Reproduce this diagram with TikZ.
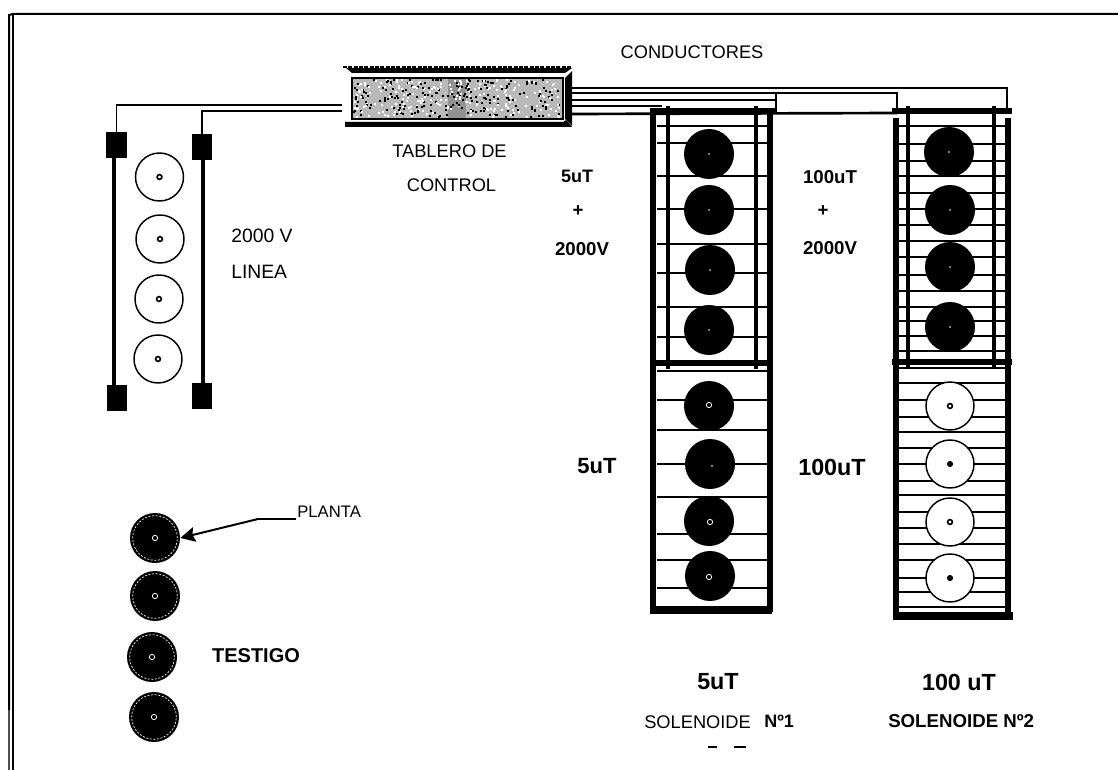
\documentclass[tikz,border=0pt]{standalone}
\usepackage{fontspec}
\setmainfont{Liberation Sans}
\usetikzlibrary{arrows.meta,patterns}
\newcommand{\fs}[1]{\fontsize{#1}{#1}\selectfont}
\tikzset{
  lab/.style={inner sep=0pt,font=\fs{13.7pt}},
  blab/.style={inner sep=0pt,font=\fs{14pt}\bfseries},
  mblab/.style={inner sep=0pt,font=\fs{17.5pt}\bfseries},
  wire/.style={draw=black,line width=1.4pt},
  rod/.style={draw=black,line width=3.4pt},
  outerrod/.style={draw=black,line width=4.4pt},
  bar/.style={draw=black,line width=5pt},
  rung/.style={draw=black,line width=1.7pt},
  term/.style={draw=none,fill=black,inner sep=0pt,minimum width=15.4pt,minimum height=19.5pt},
  wpot/.style={circle,draw=black,line width=1.1pt,fill=white,inner sep=0pt,minimum size=36pt},
  bpot/.style={circle,fill=black,inner sep=0pt,minimum size=37.5pt},
  ring/.style={circle,draw=black,line width=1.2pt,fill=white,inner sep=0pt,minimum size=3.6pt},
  dotb/.style={circle,fill=black,inner sep=0pt,minimum size=4.6pt},
  dotw/.style={circle,fill=white,inner sep=0pt,minimum size=1.3pt},
  ringw/.style={circle,draw=white,line width=.6pt,inner sep=0pt,minimum size=4pt},
  halo/.style={circle,draw=white,line width=.5pt,dash pattern=on 1.5pt off 1.2pt,inner sep=0pt,minimum size=33.5pt}
}
\begin{document}
\begin{tikzpicture}[x=0.75pt,y=-0.75pt]
\useasboundingbox (0,0) rectangle (1118,770);
% page frame
\draw[line width=1.5pt] (9,710) -- (9,15) -- (13,14) -- (1118,14);
\draw[line width=.9pt,black!70] (9,710) -- (9,770);
\draw[line width=1.1pt] (13,14) -- (13,770);
% control board
\node[inner sep=0pt,minimum width=170.25pt,minimum height=45pt] (tab) at (456.5,97) {};
\fill[gray!62] (352,78) rectangle (563,119);
\fill[pattern=crosshatch dots,pattern color=white] (352,78) rectangle (563,119);
\fill[black!55,opacity=.55] (448,78) rectangle (466,119);
\pgfmathsetseed{11}
\foreach \i in {1,...,420}{
  \pgfmathsetmacro{\rx}{353+rnd*207}
  \pgfmathsetmacro{\ry}{79+rnd*37}
  \pgfmathsetmacro{\rw}{rnd<.5?100:0}
  \fill[black!\rw!white] (\rx,\ry) rectangle ++(2,2);
}
\draw[line width=2.2pt] (352,78) rectangle (563,119);
\fill (346,68) -- (572,68) -- (565,73) -- (352,73) -- cycle;
\draw[line width=.8pt,dash pattern=on 3pt off 1pt] (343,67) -- (572,67);
\fill (345,122) -- (563,122) -- (566,120) -- (572,127) -- (345,127) -- cycle;
\fill (565,78) -- (572,71) -- (572,126) -- (565,119) -- cycle;
% wires to the line rods
\node[term] (ta) at (116.5,145) {};
\node[term] (tb) at (202,147.5) {};
\node[term] (ba) at (117,397.5) {};
\node[term] (bb) at (202,395.5) {};
\coordinate (wa) at (342,105);
\coordinate (wb) at (342,111);
\draw[wire,line width=1.1pt] (ta.north) -- (116.5,105) -- (wa);
\draw[wire,line width=1.3pt] (tb.north) -- (202,111) -- (wb);
\draw[rod] (114,150) -- (114,392);
\draw[rod] (203,150) -- (203,392);
\node[wpot] (l1) at (159.5,177) {}; \node[ring] at (l1) {};
\node[wpot] (l2) at (160,239) {};   \node[ring] at (l2) {};
\node[wpot] (l3) at (159,299) {};   \node[ring] at (l3) {};
\node[wpot] (l4) at (158,359) {};   \node[ring] at (l4) {};
\node[lab,font=\fs{14.5pt},anchor=west] (t2000) at (231,236) {2000 V};
\node[lab,font=\fs{14.5pt},anchor=west] (tlinea) at (231,272) {LINEA};
% wires to the solenoids
\coordinate (c1) at (572,88);
\coordinate (c2) at (572,93);
\coordinate (c3) at (572,100);
\coordinate (c4) at (572,106);
\coordinate (c5) at (572,114);
\coordinate (s2r) at (1007,112);
\coordinate (s2l) at (897,112);
\coordinate (s1m) at (776,112);
\draw[wire] (c1) -- (1007,88) -- (s2r);
\draw[wire] (c2) -- (897,93) -- (s2l);
\draw[wire] (c3) -- (776,100);
\draw[wire,line width=1pt] (c4) -- (662,106);
\draw[wire] (776,93) -- (s1m);
\draw[wire,line width=2pt] (c5) -- (897,113);
% solenoid 1
\foreach \y in {126,143,176,209,244,273,307,337,371,400,430,464,497,534,560,588}
  \draw[rung] (657,\y) -- (767,\y);
\draw[rod] (668,106) -- (668,369);
\draw[rod] (756,106) -- (756,369);
\draw[outerrod] (653,111) -- (653,612);
\draw[outerrod] (770,111) -- (770,612);
\draw[bar] (650,111) -- (775,111);
\draw[bar] (651,363) -- (773,363);
\draw[bar,line width=5.5pt] (650,610) -- (772,610);
\node[bpot] (a1) at (709,154) {}; \node[dotw] at (a1) {};
\node[bpot] (a2) at (709,210) {}; \node[dotw] at (a2) {};
\node[bpot] (a3) at (710,270) {}; \node[dotw] at (a3) {};
\node[bpot] (a4) at (709,330) {}; \node[dotw] at (a4) {};
\node[bpot] (a5) at (709,406) {}; \node[ringw] at (709,405) {};
\node[bpot] (a6) at (710,464) {}; \node[dotw] at (712,466) {};
\node[bpot] (a7) at (709,521) {}; \node[ringw] at (710,522) {};
\node[bpot] (a8) at (710,576) {}; \node[ringw] at (709,577) {};
% solenoid 2
\foreach \y in {126,144,161,176,193,209,225,241,257,275,291,307,321,336,351,368,383,400,417,432,448,464,481,495,512,528,544,560,578,592,607}
  \draw[rung] (897,\y) -- (1007,\y);
\draw[rod] (908,106) -- (908,368);
\draw[rod] (994,106) -- (994,368);
\draw[outerrod] (896,118) -- (896,616);
\draw[outerrod] (1008,118) -- (1008,616);
\draw[bar] (892,111) -- (1012,111);
\draw[bar] (892,362) -- (1012,362);
\draw[bar,line width=5.5pt] (893,616) -- (1013,616);
\node[bpot] (b1) at (949,152) {}; \node[dotw] at (b1) {};
\node[bpot] (b2) at (950,210) {}; \node[dotw] at (b2) {};
\node[bpot] (b3) at (950,267) {}; \node[dotw] at (b3) {};
\node[bpot] (b4) at (950,327) {}; \node[dotw] at (b4) {};
\node[wpot] (b5) at (950,406) {}; \node[ring] at (b5) {};
\node[wpot] (b6) at (950,464) {}; \node[dotb] at (b6) {};
\node[wpot] (b7) at (950,522) {}; \node[ring] at (b7) {};
\node[wpot] (b8) at (950,578) {}; \node[dotb] at (b8) {};
% control plants
\node[bpot] (p1) at (155,538) {}; \node[halo] at (p1) {}; \node[ringw] at (p1) {};
\node[bpot] (p2) at (155,596) {}; \node[halo] at (p2) {}; \node[ringw] at (p2) {};
\node[bpot] (p3) at (152,657) {}; \node[halo] at (p3) {}; \node[ringw] at (p3) {};
\node[bpot] (p4) at (154,717) {}; \node[halo] at (p4) {}; \node[ringw] at (p4) {};
% plant arrow
\node[lab,anchor=west,font=\fs{12.5pt}] (planta) at (297,512) {PLANTA};
\coordinate (elbow) at (258,519);
\draw[line width=1pt] (296,519) -- (elbow);
\draw[line width=1.5pt,-{Stealth[length=11pt,width=11pt,inset=1.5pt]}] (elbow) -- (p1.east);
% labels
\node[lab] (tcond) at (692,52) {CONDUCTORES};
\node[lab] (ttab) at (449.5,151) {TABLERO DE};
\node[lab] (tctl) at (451.5,185) {CONTROL};
\node[blab,font=\fs{13.5pt}\bfseries] (u1) at (577,176) {5uT};
\node[blab] (p1t) at (578,211) {+};
\node[blab] (v1) at (582,249) {2000V};
\node[blab] (u2) at (830,177) {100uT};
\node[blab] (p2t) at (823,211) {+};
\node[blab] (v2) at (830,248) {2000V};
\node[mblab,font=\fs{16.5pt}\bfseries] (m1) at (597,466) {5uT};
\node[mblab] (m2) at (832,467) {100uT};
\node[blab,font=\fs{15pt}\bfseries] (tes) at (256,656) {TESTIGO};
\node[mblab] (s5) at (718,682) {5uT};
\node[mblab] (s100) at (959,682) {100 uT};
\node[lab,anchor=west] (sol1) at (644,722) {SOLENOIDE};
\node[blab,font=\fs{13.5pt}\bfseries,anchor=west] (n1) at (764,721) {Nº1};
\node[blab,anchor=west] (sol2) at (888,721) {SOLENOIDE Nº2};
% two small marks under the label
\draw[line width=1pt] (708,747) -- (717,747);
\draw[line width=1pt] (734,747) -- (746,747);
\end{tikzpicture}
\end{document}
